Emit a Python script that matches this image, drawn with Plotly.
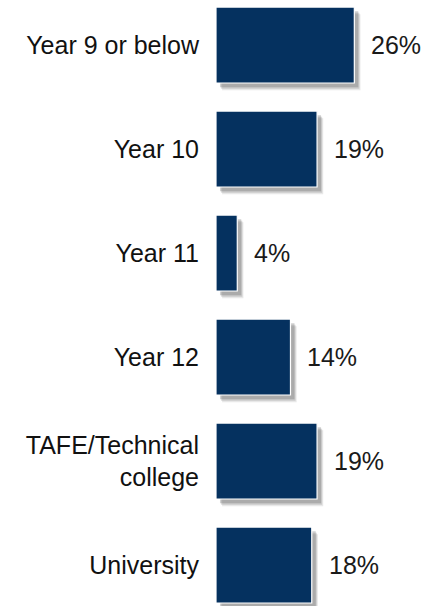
import plotly.graph_objects as go

# Highest level of education completed, share of respondents (%)
categories = ["Year 9 or below", "Year 10", "Year 11", "Year 12",
              "TAFE/Technical college", "University"]
tick_labels = ["Year 9 or below", "Year 10", "Year 11", "Year 12",
               "TAFE/Technical<br>college", "University"]
values = [26, 19, 4, 14, 19, 18]

BAR_COLOR = "#05315f"
FONT = "Liberation Sans, Arial, sans-serif"
FONT_SIZE = 25
BAR_WIDTH = 0.73

fig = go.Figure()

# soft drop shadow: a few translucent layers, shifted right/down
shadow_layers = [
    (1.15, 0.07, 0.14),   # (x shift in %, y shift in category units, opacity)
    (0.95, 0.055, 0.2),
    (0.75, 0.04, 0.28),
]
for dx, dy, op in shadow_layers:
    fig.add_trace(go.Bar(
        y=categories, x=values, base=[dx] * len(values),
        orientation="h", width=BAR_WIDTH,
        offset=-BAR_WIDTH / 2 + dy,
        marker=dict(color=f"rgba(90,90,90,{op})", line=dict(width=0)),
        hoverinfo="skip", showlegend=False,
    ))

# main bars with a thin white outline
fig.add_trace(go.Bar(
    y=categories, x=values, orientation="h", width=BAR_WIDTH,
    offset=-BAR_WIDTH / 2,
    marker=dict(color=BAR_COLOR, line=dict(color="white", width=1.2)),
    showlegend=False,
))

# value labels to the right of each bar
for cat, v in zip(categories, values):
    fig.add_annotation(
        x=v, y=cat, text=f"{v}%", showarrow=False,
        xanchor="left", yanchor="middle", xshift=15,
        font=dict(family=FONT, size=FONT_SIZE, color="#1a1a1a"),
    )

fig.update_layout(
    width=427, height=606,
    margin=dict(l=216, r=0, t=0, b=0),
    paper_bgcolor="white", plot_bgcolor="white",
    barmode="overlay",
    font=dict(family=FONT, size=FONT_SIZE, color="#111111"),
    xaxis=dict(range=[0, 39.66], visible=False, fixedrange=True),
    yaxis=dict(
        type="category", categoryorder="array", categoryarray=categories,
        tickmode="array", tickvals=categories, ticktext=tick_labels,
        range=[5.394, -0.433], showgrid=False, zeroline=False,
        showline=False, ticks="", ticklabelstandoff=16,
        tickfont=dict(family=FONT, size=FONT_SIZE, color="#111111"),
    ),
)

fig.write_html("out.html")
